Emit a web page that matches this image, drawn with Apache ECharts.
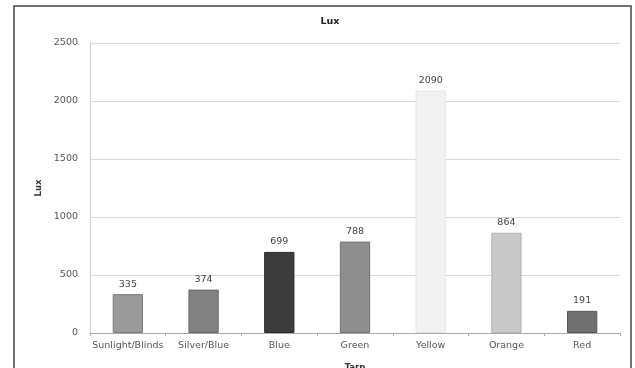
<!DOCTYPE html>
<html>
<head>
<meta charset="utf-8">
<style>
  html, body { margin: 0; padding: 0; background: #fff; }
  #chart { width: 635px; height: 368px; }
</style>
<script src="https://cdn.jsdelivr.net/npm/echarts@6/dist/echarts.min.js"></script>
</head>
<body>
<div id="chart"></div>
<script>
// Light readings for each tarp colour
const categories = ['Sunlight/Blinds', 'Silver/Blue', 'Blue', 'Green', 'Yellow', 'Orange', 'Red'];
const luxValues = [335, 374, 699, 788, 2090, 864, 191];
const barColors = ['#9a9a9a', '#828282', '#3c3c3c', '#8e8e8e', '#f2f2f2', '#c8c8c8', '#707070'];
const barBorders = ['#7a7a7a', '#666666', '#2a2a2a', '#707070', '#e4e4e4', '#b4b4b4', '#555555'];
const yTicks = [0, 500, 1000, 1500, 2000, 2500];

const chart = echarts.init(document.getElementById('chart'), null, { renderer: 'canvas' });

chart.setOption({
  animation: false,
  backgroundColor: '#ffffff',
  textStyle: { fontFamily: 'DejaVu Sans' },
  title: {
    text: 'Lux',
    left: 325,
    top: 12,
    textAlign: 'center',
    textStyle: { fontSize: 9.5, fontWeight: 'bold', color: '#222' }
  },
  graphic: [{
    type: 'rect',
    shape: { x: 14, y: 6, width: 617, height: 380 },
    style: { fill: 'none', stroke: '#444', lineWidth: 1.5 },
    silent: true
  }],
  grid: { left: 90, right: 15, top: 43, bottom: 35, containLabel: false, outerBoundsMode: 'none' },
  xAxis: {
    type: 'category',
    data: categories,
    name: 'Tarp',
    nameLocation: 'middle',
    nameGap: 30,
    nameTextStyle: { fontSize: 8.5, fontWeight: 'bold', color: '#333' },
    axisLine: { lineStyle: { color: '#aaa' } },
    axisTick: { show: true, alignWithLabel: false, length: 3, lineStyle: { color: '#aaa' } },
    axisLabel: { fontSize: 9.5, color: '#555', margin: 8, interval: 0 }
  },
  yAxis: {
    type: 'value',
    min: yTicks[0],
    max: yTicks[yTicks.length - 1],
    interval: 500,
    name: 'Lux',
    nameLocation: 'middle',
    nameGap: 28,
    nameRotate: 90,
    nameTextStyle: { fontSize: 8.5, fontWeight: 'bold', color: '#333' },
    axisLine: { show: true, lineStyle: { color: '#ccc' } },
    axisTick: { show: false },
    axisLabel: { fontSize: 9.5, color: '#555', margin: 12, formatter: v => String(v) },
    splitLine: { lineStyle: { color: '#d8d8d8' } }
  },
  series: [{
    type: 'bar',
    barWidth: '40%',
    data: luxValues.map((v, i) => ({
      value: v,
      itemStyle: { color: barColors[i], borderColor: barBorders[i], borderWidth: 1 }
    })),
    label: {
      show: true,
      position: 'top',
      distance: 5,
      fontSize: 9.5,
      color: '#444'
    }
  }]
});
</script>
</body>
</html>
